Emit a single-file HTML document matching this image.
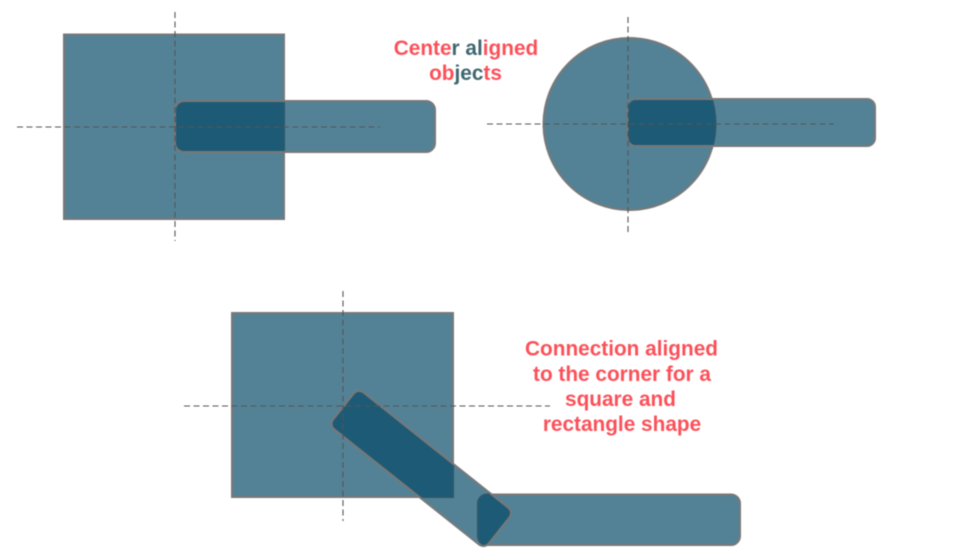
<!DOCTYPE html>
<html>
<head>
<meta charset="utf-8">
<style>
html,body{margin:0;padding:0;background:#fff}
svg{display:block;width:960px;height:559px}
text{font-family:"Liberation Sans",Arial,sans-serif;font-size:20.8px;font-weight:bold;fill:#fb5059;text-anchor:middle}
tspan{fill:#3f6670}
.s{fill:#064a67;fill-opacity:.69;stroke:#787878;stroke-width:2}
.d{fill:none;stroke:#555;stroke-width:1.1;stroke-dasharray:6 3.5}
</style>
</head>
<body>
<svg width="960" height="559" viewBox="0 0 960 559" xmlns="http://www.w3.org/2000/svg">
<g style="filter:blur(.5px)">
<rect class="s" x="64" y="34.500" width="220" height="184.500"/>
<rect class="s" x="175" y="101" width="260" height="51" rx="9"/>
<path class="d" d="M17 127H380M175 12V241"/>

<circle class="s" cx="629.500" cy="124" r="86"/>
<rect class="s" x="627.500" y="99" width="247.500" height="47" rx="8"/>
<path class="d" d="M487 124H834M628 17V232"/>

<rect class="s" x="232" y="313" width="221" height="184"/>
<rect class="s" x="478" y="494.500" width="262" height="50.500" rx="9"/>
<rect class="s" x="-99.500" y="-23.500" width="199" height="47" rx="7" transform="translate(421.250 468.500) rotate(38.500)"/>
<path class="d" d="M184 406H550M343 291V521"/>

<text x="466" y="55">Cente<tspan>r al</tspan>igned</text>
<text x="465.500" y="80">ob<tspan>jec</tspan>ts</text>
<text x="621.500" y="355.500">Connection aligned</text>
<text x="622" y="381">to the corner for a</text>
<text x="620.500" y="406">square and</text>
<text x="622" y="431">rectangle shape</text>
</g>
</svg>
</body>
</html>
